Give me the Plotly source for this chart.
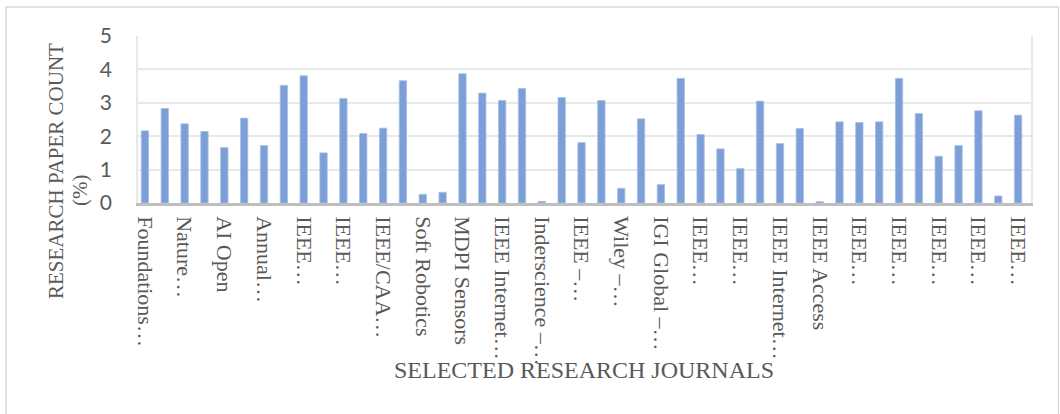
import plotly.graph_objects as go

# Data
paper_share = [2.16, 2.83, 2.37, 2.14, 1.66, 2.54, 1.72, 3.52, 3.81, 1.50,
               3.13, 2.08, 2.24, 3.66, 0.26, 0.32, 3.87, 3.29, 3.07, 3.43,
               0.05, 3.16, 1.81, 3.07, 0.44, 2.52, 0.55, 3.73, 2.05, 1.62,
               1.03, 3.05, 1.78, 2.23, 0.04, 2.43, 2.41, 2.43, 3.73, 2.68,
               1.40, 1.72, 2.76, 0.21, 2.63]
shown_journal_labels = ["Foundations…", "Nature…", "AI Open", "Annual…", "IEEE…",
                        "IEEE…", "IEEE/CAA…", "Soft Robotics", "MDPI Sensors",
                        "IEEE Internet…", "Inderscience –…", "IEEE –…", "Wiley –…",
                        "IGI Global –…", "IEEE…", "IEEE…", "IEEE Internet…",
                        "IEEE Access", "IEEE…", "IEEE…", "IEEE…", "IEEE…", "IEEE…"]
y_ticks = [0, 1, 2, 3, 4, 5]

journal_index = list(range(len(paper_share)))
label_positions = journal_index[::2]

GRAY = "#595959"
SERIF = "Liberation Serif"

fig = go.Figure(go.Bar(
    x=journal_index, y=paper_share,
    marker=dict(color="#7b9fd6", line=dict(color="#a8bfe6", width=0.8)),
    width=0.37,
))

L, R, T, B = 138, 29, 36, 211
W, H = 1060, 414
pw, ph = W - L - R, H - T - B

def px_x(px):
    return (px - L) / pw

def px_y(py):
    return (H - B - py) / ph

fig.update_layout(
    width=W, height=H,
    margin=dict(l=L, r=R, t=T, b=B, autoexpand=False),
    paper_bgcolor="white", plot_bgcolor="white",
    showlegend=False,
    xaxis=dict(
        range=[-0.35, len(paper_share) - 0.35],
        tickvals=label_positions, ticktext=shown_journal_labels,
        tickangle=90, tickfont=dict(family=SERIF, size=22, color=GRAY),
        showgrid=False, zeroline=False, automargin=False,
        showline=True, linecolor="#bfbfbf", linewidth=2.5,
        ticks="", ticklabelstandoff=6,
    ),
    yaxis=dict(
        range=[0, 5], tickvals=y_ticks, automargin=False,
        tickfont=dict(family="Lato, Open Sans, sans-serif", size=21, color=GRAY),
        showgrid=True, gridcolor="#e8e8e8", gridwidth=1.5,
        zeroline=False, showline=True, linecolor="#e8e8e8", linewidth=1.5, mirror=True,
        ticks="", ticklabelstandoff=20,
    ),
    shapes=[dict(type="rect", xref="paper", yref="paper",
                 x0=px_x(6), x1=px_x(1058.5), y0=px_y(420), y1=px_y(7),
                 line=dict(color="#d9d9d9", width=1.5), fillcolor="rgba(0,0,0,0)",
                 layer="below")],
    annotations=[
        dict(text="RESEARCH PAPER COUNT", xref="paper", yref="paper",
             x=px_x(56), y=px_y(171), textangle=-90, showarrow=False,
             xanchor="center", yanchor="middle",
             font=dict(family=SERIF, size=21, color=GRAY)),
        dict(text="(%)", xref="paper", yref="paper",
             x=px_x(80), y=px_y(191), textangle=-90, showarrow=False,
             xanchor="center", yanchor="middle",
             font=dict(family=SERIF, size=21, color=GRAY)),
        dict(text="SELECTED RESEARCH JOURNALS", xref="paper", yref="paper",
             x=px_x(584), y=px_y(370), showarrow=False,
             xanchor="center", yanchor="middle",
             font=dict(family=SERIF, size=24, color=GRAY)),
    ],
)

fig.write_html("out.html", config={"displayModeBar": False},
               post_script="document.body.style.margin='0px';document.body.style.overflow='hidden';")
